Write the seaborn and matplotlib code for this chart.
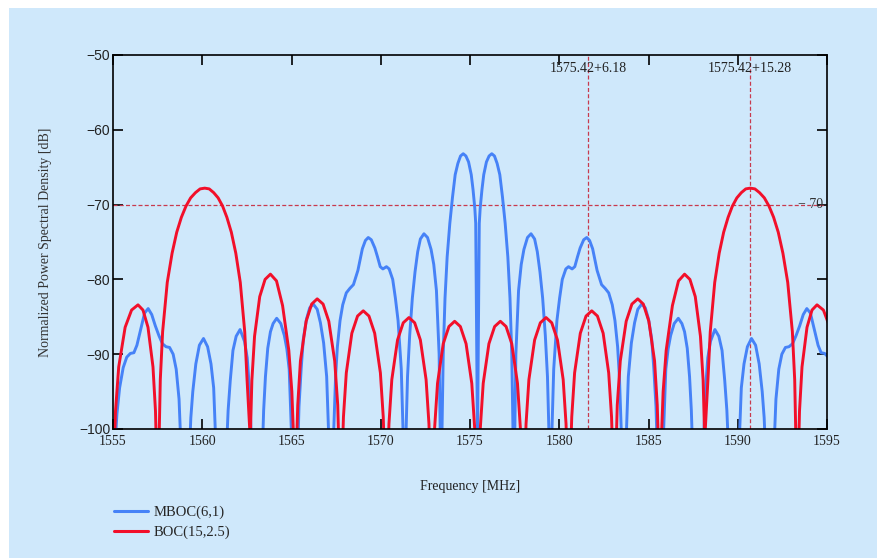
import numpy as np
import pandas as pd
import matplotlib
matplotlib.use("Agg")
import matplotlib.pyplot as plt
import matplotlib.transforms as mtransforms
from matplotlib.patches import Rectangle
from matplotlib.lines import Line2D
import seaborn as sns

# GPS/Galileo L1 carrier [MHz]; spectra are symmetric about it
CARRIER = 1575.42

SERIES = ["MBOC(6,1)", "BOC(15,2.5)"]

# MBOC(6,1): offset from carrier [MHz] and normalized PSD [dB] (upper half)
mboc_offset = [
    0.00, 0.10, 0.15, 0.25, 0.35, 0.50, 0.65, 0.80, 0.95, 1.10, 1.25, 1.40,
    1.55, 1.70, 1.82, 1.92, 2.00,
    2.08, 2.15, 2.30, 2.45, 2.60, 2.80, 3.00, 3.20, 3.35, 3.50, 3.65, 3.80,
    3.92, 4.02,
    4.15, 4.27, 4.45, 4.60, 4.75, 4.95, 5.10, 5.30, 5.45, 5.60, 5.75, 5.95,
    6.12, 6.28, 6.45, 6.70, 6.95, 7.15, 7.35, 7.55, 7.70, 7.85, 7.95, 8.08,
    8.32, 8.45, 8.62, 8.80, 8.98, 9.20, 9.40, 9.58, 9.76, 9.88, 10.00, 10.06,
    10.40, 10.55, 10.68, 10.82, 11.02, 11.25, 11.45, 11.60, 11.75, 11.88,
    11.98, 12.04,
    12.66, 12.78, 12.90, 13.05, 13.30, 13.52, 13.70, 13.85, 13.97, 14.05,
    14.66, 14.78, 14.93, 15.12, 15.35, 15.58, 15.78, 15.95, 16.06, 16.12,
    16.62, 16.72, 16.88, 17.05, 17.25, 17.45, 17.65, 17.85, 18.05, 18.25,
    18.45, 18.65, 18.88, 19.08, 19.25, 19.45, 19.65, 19.85, 20.05, 20.20,
    20.30,
]
mboc_psd = [
    -102.0, -72.5, -70.5, -68.0, -66.0, -64.3, -63.5, -63.2, -63.5, -64.5,
    -66.0, -69.0, -72.5, -77.0, -82.5, -90.0, -102.0,
    -102.0, -90.0, -81.5, -78.0, -76.0, -74.4, -73.9, -74.6, -76.3, -79.0,
    -82.5, -87.5, -93.0, -102.0,
    -102.0, -92.0, -85.5, -82.5, -80.0, -78.6, -78.3, -78.6, -78.3, -77.0,
    -75.8, -74.7, -74.4, -74.8, -75.9, -78.8, -80.7, -81.2, -81.8, -83.4,
    -85.5, -89.0, -93.0, -102.0,
    -102.0, -93.0, -88.5, -85.8, -84.0, -83.3, -83.8, -85.3, -88.0, -92.0,
    -97.0, -102.0,
    -102.0, -92.0, -89.3, -87.5, -85.9, -85.2, -85.9, -87.0, -89.2, -93.0,
    -97.5, -102.0,
    -102.0, -94.5, -90.5, -88.3, -86.7, -87.6, -89.5, -93.5, -97.5, -102.0,
    -102.0, -94.5, -91.3, -89.0, -87.9, -88.8, -91.3, -95.0, -98.5, -102.0,
    -102.0, -96.0, -92.0, -90.0, -89.1, -89.0, -88.6, -87.5, -86.2, -84.7,
    -83.9, -84.5, -86.8, -88.8, -89.8, -89.9, -90.4, -91.8, -94.5, -98.0,
    -102.0,
]

# BOC(15,2.5): offset from carrier [MHz] and normalized PSD [dB] (upper half)
boc_offset = [
    0.06, 0.16, 0.32, 0.64, 0.96, 1.28, 1.60, 1.92, 2.24, 2.40, 2.50,
    2.62, 2.72, 2.88, 3.20, 3.52, 3.84, 4.16, 4.48, 4.80, 4.96, 5.06,
    5.18, 5.28, 5.44, 5.76, 6.08, 6.40, 6.72, 7.04, 7.35, 7.51, 7.61,
    7.74, 7.83, 8.00, 8.33, 8.65, 8.98, 9.29, 9.60, 9.92, 10.07, 10.17,
    10.30, 10.40, 10.57, 10.92, 11.26, 11.60, 11.90, 12.20, 12.49, 12.64, 12.73,
    12.91, 13.04, 13.29, 13.54, 13.79, 14.04, 14.28, 14.53, 14.78, 15.03,
    15.28, 15.54, 15.80, 16.07, 16.33, 16.59, 16.85, 17.11, 17.38, 17.64,
    17.77, 17.86,
    17.96, 18.04, 18.18, 18.46, 18.74, 19.02, 19.38, 19.74, 20.10, 20.28, 20.39,
]
boc_psd = [
    -107.7, -99.8, -93.9, -88.6, -86.3, -85.6, -86.3, -88.6, -93.9, -99.8, -107.7,
    -107.2, -99.3, -93.4, -88.1, -85.8, -85.1, -85.8, -88.1, -93.4, -99.3, -107.2,
    -106.3, -98.4, -92.5, -87.2, -84.9, -84.2, -84.9, -87.2, -92.5, -98.4, -106.3,
    -104.7, -96.8, -90.9, -85.6, -83.3, -82.6, -83.3, -85.6, -90.9, -96.8, -104.7,
    -101.4, -95.0, -89.5, -83.5, -80.2, -79.3, -80.0, -82.3, -87.6, -93.5, -101.4,
    -93.4, -87.0, -80.4, -76.5, -73.7, -71.7, -70.2, -69.1, -68.4, -67.9,
    -67.8, -67.9, -68.4, -69.1, -70.2, -71.7, -73.7, -76.5, -80.4, -87.0,
    -93.4, -104.0,
    -105.5, -97.6, -91.7, -86.4, -84.1, -83.4, -84.1, -86.4, -91.7, -97.6, -105.5,
]

# Marker offsets above the carrier and reference level
marker_offsets = [6.18, 15.28]
ref_level = -70

x_ticks = [1555, 1560, 1565, 1570, 1575, 1580, 1585, 1590, 1595]
y_ticks = [-50, -60, -70, -80, -90, -100]


def two_sided(offset, psd):
    off = np.asarray(offset, dtype=float)
    val = np.asarray(psd, dtype=float)
    lower = off > 0
    freq = np.concatenate([CARRIER - off[lower][::-1], CARRIER + off])
    vals = np.concatenate([val[lower][::-1], val])
    return freq, vals


frames = []
for name, off, psd in [(SERIES[0], mboc_offset, mboc_psd),
                       (SERIES[1], boc_offset, boc_psd)]:
    f, v = two_sided(off, psd)
    frames.append(pd.DataFrame({"freq": f, "psd": v, "signal": name}))
df = pd.concat(frames, ignore_index=True)

BG = "#cfe8fb"
BLUE = "#4682f7"
RED = "#f20f2a"
MARK = "#c83a4e"
SERIF = "Liberation Serif"
SANS = "Liberation Sans"

sns.set_theme(style="ticks")
plt.rcParams["font.family"] = [SERIF, "DejaVu Serif"]

W, H = 877, 558
fig = plt.figure(figsize=(W / 100, H / 100), dpi=100)
fig.patch.set_facecolor("white")
fig.patches.append(Rectangle((9 / W, 0), 1 - 9 / W, (H - 8) / H,
                             transform=fig.transFigure, facecolor=BG,
                             edgecolor="none", zorder=-10))

L, R, T, B = 113, 827, 55, 429
ax = fig.add_axes([L / W, (H - B) / H, (R - L) / W, (B - T) / H])
ax.set_facecolor(BG)

sns.lineplot(data=df, x="freq", y="psd", hue="signal", hue_order=SERIES,
             palette={SERIES[0]: BLUE, SERIES[1]: RED}, estimator=None,
             sort=False, linewidth=2.1, legend=False, ax=ax)

ax.set_xlim(x_ticks[0], x_ticks[-1])
ax.set_ylim(min(y_ticks), max(y_ticks))
ax.set_xticks(x_ticks)
ax.set_yticks(y_ticks)
ax.set_yticklabels([f"\u2212{abs(v)}" for v in y_ticks])

for s in ax.spines.values():
    s.set_color("black")
    s.set_linewidth(1.2)
ax.tick_params(direction="in", length=7.5, width=1.2, color="black",
               top=True, right=True, labelsize=10, labelcolor="#222222")
ax.tick_params(axis="x", pad=4, labelfontfamily=SERIF)
ax.tick_params(axis="y", pad=2, labelfontfamily=SANS)

ax.set_xlabel("Frequency [MHz]", fontsize=10, family=SERIF, color="#222222")
ax.set_ylabel("Normalized Power Spectral Density [dB]", fontsize=10,
              family=SERIF, color="#333333")
ax.xaxis.set_label_coords(0.5, -(480 - B) / (B - T))
ax.yaxis.set_label_coords(-(L - 52) / (R - L), 0.5)

# Marker lines
dash = (0, (3.2, 1.8))
ax.axhline(ref_level, color=MARK, lw=0.9, linestyle=dash, zorder=1)
top_tr = mtransforms.blended_transform_factory(ax.transData, ax.transAxes)
for m in marker_offsets:
    xm = CARRIER + m
    ax.axvline(xm, color=MARK, lw=0.9, linestyle=dash, zorder=1)
    ax.text(xm, 1 - 14 / (B - T), f"{CARRIER:.2f}+{m:.2f}", transform=top_tr,
            ha="center", va="center", fontsize=10, family=SERIF,
            color="#222222")
right_tr = mtransforms.blended_transform_factory(ax.transAxes, ax.transData)
ax.text((823 - L) / (R - L), ref_level, f"\u2212 {abs(ref_level)}",
        transform=right_tr, ha="right", va="center", fontsize=10,
        family=SERIF, color="#333333")

handles = [Line2D([], [], color=BLUE, lw=2.2), Line2D([], [], color=RED, lw=2.2)]
fig.legend(handles, SERIES, loc="upper left",
           bbox_to_anchor=(114 / W, (H - 506) / H), frameon=False,
           prop={"family": SERIF, "size": 10.5}, handlelength=2.3,
           handletextpad=0.4, labelspacing=0.4, borderpad=0,
           borderaxespad=0)

fig.savefig("out.png", dpi=100, facecolor=fig.get_facecolor())
